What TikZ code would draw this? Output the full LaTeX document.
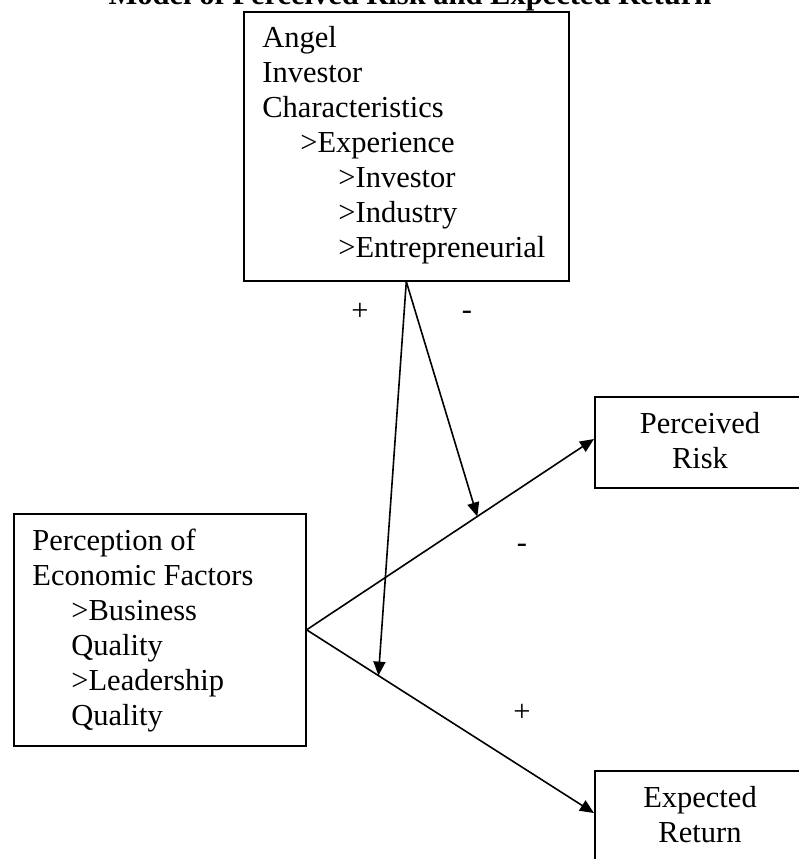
\documentclass[tikz,border=0pt]{standalone}
\usepackage{fontspec}
\setmainfont{Liberation Serif}
\usetikzlibrary{arrows.meta,calc}
\begin{document}
\begin{tikzpicture}[x=0.5pt,y=-0.5pt,
  box/.style={draw, line width=0.8pt, inner sep=0pt, anchor=north west},
  txt/.style={inner sep=0pt, font=\fontsize{15.25}{17.5}\selectfont},
  arr/.style={line width=0.8pt, -{Triangle[length=7pt,width=6pt]}},
  sign/.style={inner sep=0pt, font=\fontsize{15.25}{17.5}\selectfont}]
\useasboundingbox (0,0) rectangle (799,859);
\clip (0,0) rectangle (799,859);
% title (mostly cut off at the top)
\node[inner sep=0pt, anchor=base, font=\fontsize{15.25}{17.5}\selectfont\bfseries] (title) at (410,4) {Model of Perceived Risk and Expected Return};
% boxes
\node[box, minimum width=162.5pt, minimum height=134.5pt] (top) at (243,11) {};
\node[box, minimum width=146pt, minimum height=116pt] (perc) at (13,513) {};
\node[box, minimum width=110pt, minimum height=45.5pt] (risk) at (594,396) {};
\node[box, minimum width=110pt, minimum height=60pt] (ret) at (594,770) {};
% texts
\node[txt, anchor=base west] (toptext) at (262,47) {\begin{tabular}[t]{@{}l@{}}Angel\\Investor\\Characteristics\\\hspace*{19pt}>Experience\\\hspace*{38pt}>Investor\\\hspace*{38pt}>Industry\\\hspace*{38pt}>Entrepreneurial\end{tabular}};
\node[txt, anchor=base west] (perctext) at (32,550) {\begin{tabular}[t]{@{}l@{}}Perception of\\Economic Factors\\\hspace*{19.5pt}>Business\\\hspace*{19.5pt}Quality\\\hspace*{19.5pt}>Leadership\\\hspace*{19.5pt}Quality\end{tabular}};
\node[txt, anchor=base] (risktext) at (700,433) {\begin{tabular}[t]{@{}c@{}}Perceived\\Risk\end{tabular}};
\node[txt, anchor=base] (rettext) at (700,807) {\begin{tabular}[t]{@{}c@{}}Expected\\Return\end{tabular}};
% connectors
\coordinate (ein) at (594,813);
\coordinate (rin) at (594,439);
\draw[arr] (perc.east) -- (rin);
\draw[arr] (perc.east) -- (ein);
\coordinate (mr) at ($(perc.east)!0.594!(rin)$);
\coordinate (me) at ($(perc.east)!0.25!(ein)$);
\draw[arr] (top.south) -- (mr);
\draw[arr] (top.south) -- (me);
% signs
\node[sign] (s1) at (360,312) {+};
\node[sign] (s2) at (467,315) {-};
\node[sign] (s3) at (522,548) {-};
\node[sign] (s4) at (522,713) {+};
\end{tikzpicture}
\end{document}
